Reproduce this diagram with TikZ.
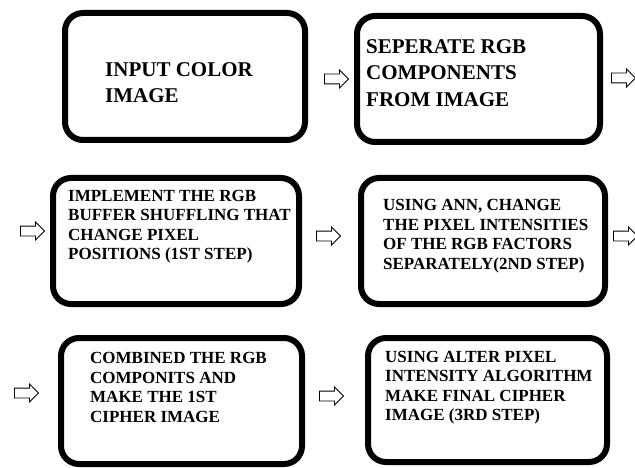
\documentclass[tikz,border=0pt]{standalone}
\usepackage{fontspec}
\setmainfont{Liberation Serif}
\usetikzlibrary{calc, shapes.arrows}

\begin{document}
\begin{tikzpicture}[x = 1pt, y = -1pt,
        stage/.style = {draw = black, fill = white, line width = 6pt, rounded corners = 18pt, inner sep = 0pt},
        bigtext/.style = {align = left, anchor = west, inner sep = 0pt, font = \fontsize{21}{26.5}\selectfont\bfseries},
        smalltext/.style = {align = left, anchor = west, inner sep = 0pt, font = \fontsize{17}{19.5}\selectfont\bfseries},
        flow/.style = {single arrow, draw = black, fill = white, line width = 0.9pt, minimum height = 24pt, minimum width = 17pt, single arrow head extend = 4pt, inner sep = 4.5pt}]
            \fill[white] (0, 0) rectangle (635, 468);
            \useasboundingbox (0, 0) rectangle (635, 468);
            
            \node[stage, minimum width = 240pt, minimum height = 127pt] (input) at (185, 76.5) {};
            \node[bigtext] (input_text) at (105, 82.5) {INPUT COLOR\\IMAGE};
            
            \node[stage, minimum width = 243pt, minimum height = 126pt] (separate) at (478.5, 79) {};
            \node[bigtext] (separate_text) at (366, 73) {SEPERATE RGB\\COMPONENTS\\FROM IMAGE};
            
            \node[stage, minimum width = 246pt, minimum height = 126pt] (shuffle) at (176, 241) {};
            \node[smalltext] (shuffle_text) at (68, 226.5) {IMPLEMENT THE RGB\\BUFFER SHUFFLING THAT\\CHANGE PIXEL\\POSITIONS (1ST STEP)};
            
            \node[stage, minimum width = 244pt, minimum height = 126pt] (intensity) at (483, 241) {};
            \node[smalltext] (intensity_text) at (383, 236) {USING ANN, CHANGE\\THE PIXEL INTENSITIES\\OF THE RGB FACTORS\\SEPARATELY(2ND STEP)};
            
            \node[stage, minimum width = 241pt, minimum height = 126pt] (combine) at (181.5, 401) {};
            \node[smalltext] (combine_text) at (90, 387.5) {COMBINED THE RGB\\COMPONITS AND\\MAKE THE 1ST\\CIPHER IMAGE};
            
            \node[stage, minimum width = 239pt, minimum height = 124pt] (final) at (487.5, 400) {};
            \node[smalltext] (final_text) at (385, 387.5) {USING ALTER PIXEL\\INTENSITY ALGORITHM\\MAKE FINAL CIPHER\\IMAGE (3RD STEP)};
            
            \node[flow] (flow_1) at (334, 79) {};
            \node[flow] (flow_2) at (621, 78) {};
            \node[flow] (flow_3) at (30, 231) {};
            \node[flow] (flow_4) at (326, 236) {};
            \node[flow] (flow_5) at (623, 236) {};
            \node[flow] (flow_6) at (24, 393) {};
            \node[flow] (flow_7) at (329, 396) {};
        \end{tikzpicture}
\end{document}
